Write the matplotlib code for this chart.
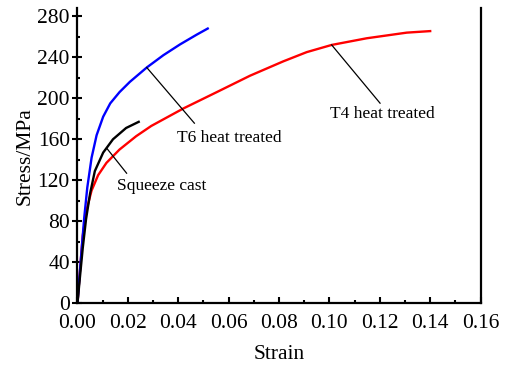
import numpy as np
import matplotlib
matplotlib.use("Agg")
import matplotlib.pyplot as plt
from matplotlib.ticker import MultipleLocator

# strain / stress curves
t6_strain = [0.0, 0.0008, 0.0017, 0.0027, 0.0039, 0.0056, 0.0076, 0.0102, 0.013, 0.0167,
             0.0208, 0.0275, 0.0341, 0.0407, 0.0473, 0.0517]
t6_stress = [0.0, 26, 54, 84, 113, 142, 164, 182, 195, 206,
             216, 230, 242, 252.5, 262, 268]

sc_strain = [0.0, 0.001, 0.0021, 0.0034, 0.005, 0.0069, 0.0102, 0.0141, 0.0193, 0.0243]
sc_stress = [0.0, 26, 54, 82, 107, 129, 147, 160, 171, 177]

t4_strain = [0.0, 0.001, 0.0021, 0.0037, 0.0056, 0.0082, 0.0115, 0.0167, 0.0233, 0.0293,
             0.042, 0.0553, 0.0685, 0.0817, 0.091, 0.1009, 0.1148, 0.1307, 0.14]
t4_stress = [0.0, 32, 66, 92, 110, 125, 137, 150, 163, 173,
             190, 206, 222, 236, 245, 252, 258.5, 264, 265.5]

labels = ["T6 heat treated", "Squeeze cast", "T4 heat treated"]

plt.rcParams['font.family'] = ['Liberation Serif', 'DejaVu Serif']

fig = plt.figure(figsize=(5.08, 3.65), dpi=100)
ax = fig.add_axes([0.1525, 0.169, 0.7935, 0.809])

ax.plot(t4_strain, t4_stress, color='red', lw=1.7)
ax.plot(t6_strain, t6_stress, color='blue', lw=1.7)
ax.plot(sc_strain, sc_stress, color='black', lw=1.7)

ax.set_xlim(0, 0.16)
ax.set_ylim(0, 288)
ax.xaxis.set_major_locator(MultipleLocator(0.02))
ax.xaxis.set_minor_locator(MultipleLocator(0.01))
ax.yaxis.set_minor_locator(MultipleLocator(20))
ax.set_yticks(np.arange(0, 281, 40))
ax.xaxis.set_major_formatter(plt.FuncFormatter(lambda v, p: f"{v:.2f}"))

ax.tick_params(which='both', direction='in', width=1.5, labelsize=15.5)
ax.tick_params(which='major', length=4)
ax.tick_params(which='minor', length=2)
ax.tick_params(axis='x', pad=7.5)
ax.tick_params(axis='y', which='major', direction='inout', length=7, pad=2)
ax.spines['top'].set_visible(False)
for s in ['left', 'right', 'bottom']:
    ax.spines[s].set_linewidth(1.6)

ax.set_xlabel("Strain", fontsize=15.5, labelpad=9)
ax.set_ylabel("Stress/MPa", fontsize=15.5, labelpad=2)

# leader lines and labels
ax.plot([0.0275, 0.0464], [230, 175.7], color='black', lw=0.9)
ax.text(0.0394, 161, labels[0], fontsize=12.5, ha='left', va='center')
ax.plot([0.0116, 0.0195], [151.3, 126.9], color='black', lw=0.9)
ax.text(0.0156, 114, labels[1], fontsize=12.5, ha='left', va='center')
ax.plot([0.1009, 0.1201], [252, 195.2], color='black', lw=0.9)
ax.text(0.1002, 185, labels[2], fontsize=12.5, ha='left', va='center')

fig.savefig("out.png", dpi=100)
